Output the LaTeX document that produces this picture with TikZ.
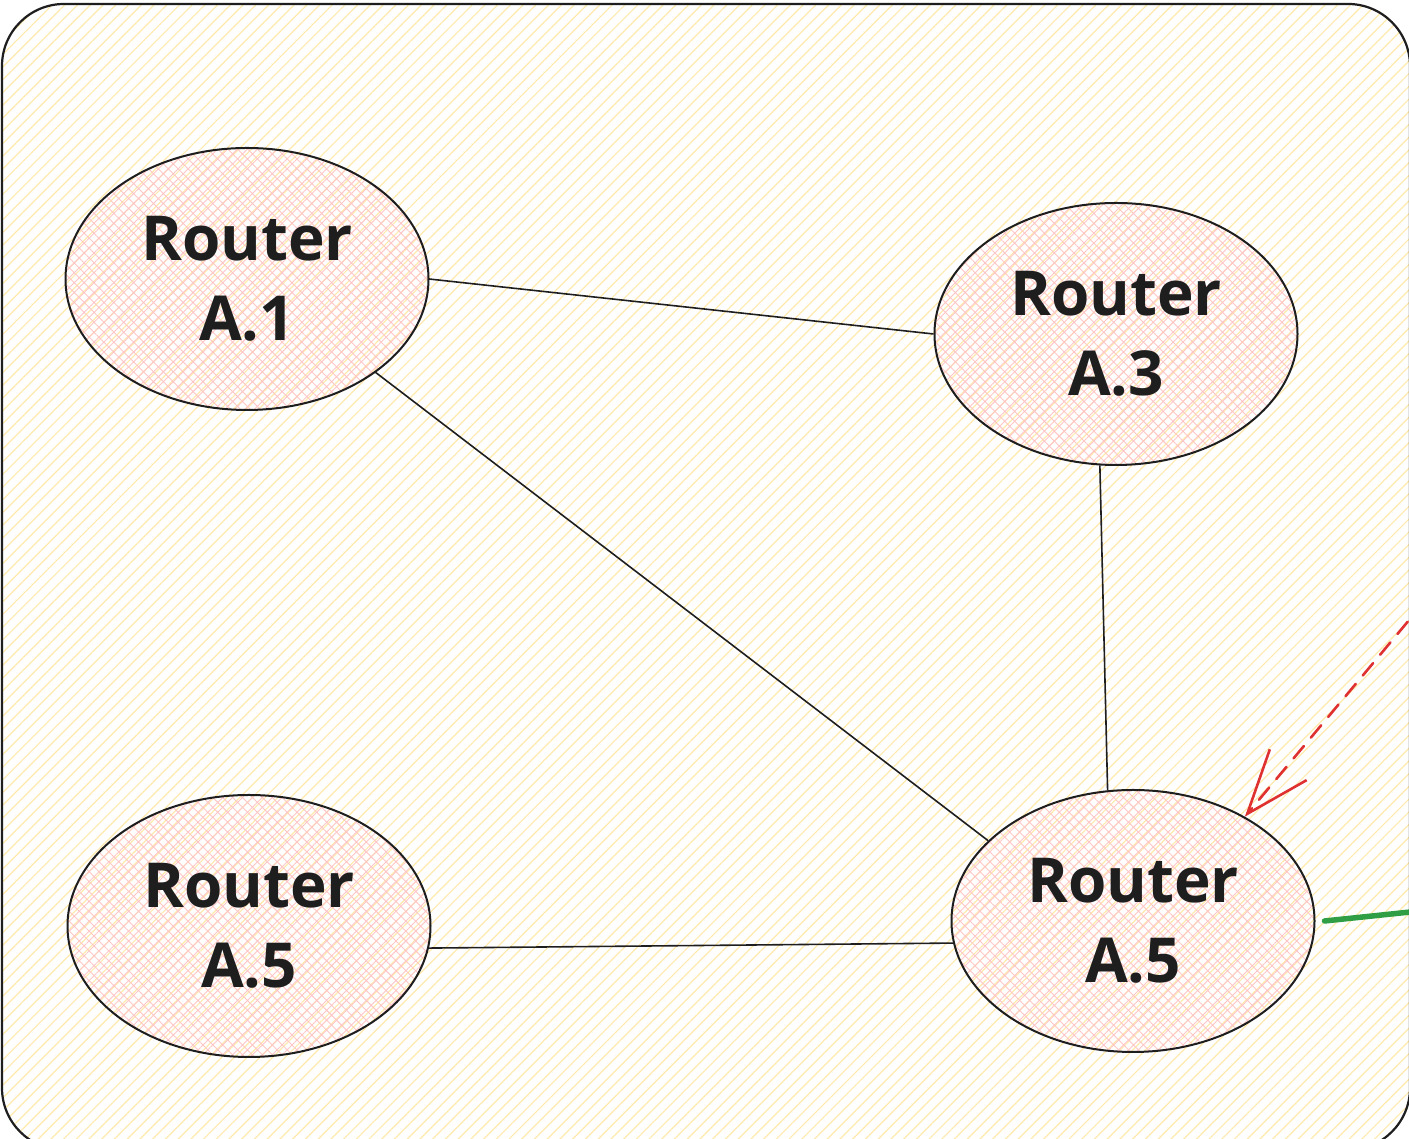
\documentclass[tikz,border=0pt]{standalone}
\usepackage{fontspec}
\setmainfont{Open Sans}
\usetikzlibrary{shapes.geometric,patterns.meta,arrows.meta}
\definecolor{ink}{HTML}{1E1E1E}
\definecolor{sandhatch}{HTML}{FFEAAE}
\definecolor{rosehatch}{HTML}{FFC6C6}
\definecolor{alertred}{HTML}{E03131}
\definecolor{linkgreen}{HTML}{2F9E44}
\begin{document}
\begin{tikzpicture}[x=1pt,y=1pt,
  router/.style={ellipse, draw=ink, line width=2pt,
    minimum width=363pt, minimum height=262pt, inner sep=0pt,
    pattern={Hatch[angle=45,distance=7pt,line width=0.9pt]},
    pattern color=rosehatch,
    align=center, text=ink,
    font=\fontsize{62}{80}\selectfont\bfseries},
  link/.style={draw=ink, line width=1.6pt},
  area/.style={draw=ink, line width=2.2pt, rounded corners=62pt,
    pattern={Lines[angle=45,distance=9pt,line width=1.2pt]},
    pattern color=sandhatch}]
\useasboundingbox (0,0) rectangle (1409,1139);
\clip (0,0) rectangle (1409,1139);
\fill[white] (0,0) rectangle (1409,1139);

% network area
\path[area] (2,-11) rectangle (1410,1135);

% routers
\node[router] (a1)  at (247,860)  {Router\\A.1};
\node[router] (a3)  at (1116,805) {Router\\A.3};
\node[router] (a5l) at (249,213)  {Router\\A.5};
\node[router] (a5r) at (1133,218) {Router\\A.5};

% links
\draw[link] (a1.east) -- (a3.west);
\draw[link] (a1.-36) -- (a5r.151);
\draw[link] (a3.-97) -- (a5r.101);
\draw[link] (a5l.-7) -- (a5r.187);

% external connections
\coordinate (ext1) at (1425,538);
\coordinate (ext2) at (1420,228);
\draw[alertred, line width=2.6pt, line cap=round, dash pattern=on 16pt off 11pt,
  -{Straight Barb[length=64pt,width=48pt,line width=2.6pt]}] (ext1) -- (a5r.43);
\draw[linkgreen, line width=5.5pt, line cap=round] ([xshift=9pt]a5r.east) -- (ext2);
\end{tikzpicture}
\end{document}
